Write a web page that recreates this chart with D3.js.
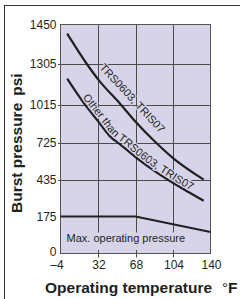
<!DOCTYPE html>
<html><head><meta charset="utf-8">
<script src="https://cdn.jsdelivr.net/npm/d3@7/dist/d3.min.js"></script>
<style>
html,body{margin:0;padding:0;background:#fff;}
svg{display:block;font-family:"Liberation Sans",Arial,Helvetica,sans-serif;}
</style></head><body>
<svg id="c" width="240" height="299"></svg>
<script>
// ---------- data ----------
const xTicks = [-4, 32, 68, 104, 140];
const xTickLabels = ["\u20134", "32", "68", "104", "140"];
const yTicks = [0, 175, 435, 725, 1015, 1305, 1450];
const yTickLabels = ["0", "175", "435", "725", "1015", "1305", "1450"];

// TRS0603, TRIS07
const tempA  = [2.4, 21.1, 32.9, 53.2, 68.3, 85.3, 104.6, 133.5];
const burstA = [1416, 1305, 1187, 1022, 882, 743, 600, 435];
// Other than TRS0603, TRIS07
const tempB  = [2.4, 16.5, 32.9, 43.5, 53.2, 68.3, 85.3, 104.6, 133.5];
const burstB = [1199, 1045, 880, 773, 712, 610, 508, 409, 286];
// Max. operating pressure
const tempMax  = [-4, 68, 140];
const pressMax = [175, 175, 102];

const labelA = "TRS0603, TRIS07";
const labelB = "Other than TRS0603, TRIS07";
const labelMax = "Max. operating pressure";
const xTitle = "Operating temperature";
const xUnit = "\u00B0F";
const yTitle = "Burst pressure";
const yUnit = "psi";

// ---------- layout ----------
const W = 240, H = 299;
const pLeft = 60.5, pRight = 210.5, pTop = 24.5, pBottom = 253.5;
const yStops = [0, 0.1614, 0.3227, 0.484, 0.65, 0.8286, 1];
const bg = "#d7d4ea", grid = "#4a4a4a", ink = "#231f20";

const svg = d3.select("#c");
const x = d3.scaleLinear().domain([xTicks[0], xTicks[xTicks.length-1]]).range([pLeft, pRight]);
const y = d3.scaleLinear().domain(yTicks).range(yStops.map(f => pBottom - f * (pBottom - pTop)));

// outer frame (left & top)
svg.append("line").attr("x1", 4.5).attr("x2", 4.5).attr("y1", 5).attr("y2", H).attr("stroke", "#333").attr("stroke-width", 1);
svg.append("line").attr("x1", 4).attr("x2", W).attr("y1", 5.5).attr("y2", 5.5).attr("stroke", "#333").attr("stroke-width", 1);

// plot background
svg.append("rect").attr("x", pLeft).attr("y", pTop).attr("width", pRight - pLeft).attr("height", pBottom - pTop).attr("fill", bg);

// gridlines
const g = svg.append("g").attr("stroke", grid).attr("stroke-width", 1);
g.selectAll(".vx").data(xTicks.slice(1, -1)).join("line")
  .attr("x1", d => Math.round(x(d)) + 0.5).attr("x2", d => Math.round(x(d)) + 0.5)
  .attr("y1", pTop).attr("y2", pBottom + 4);
g.selectAll(".hy").data(yTicks.slice(2, -1)).join("line")
  .attr("x1", pLeft - 2.5).attr("x2", pRight)
  .attr("y1", d => Math.round(y(d)) + 0.5).attr("y2", d => Math.round(y(d)) + 0.5);

// max label background + text
const maxBg = svg.append("rect").attr("fill", bg);
const maxText = svg.append("text").attr("x", pLeft + 6).attr("y", pBottom - 11.5)
  .attr("font-size", 11).attr("fill", ink).text(labelMax);
const bb = maxText.node().getBBox();
maxBg.attr("x", bb.x - 2).attr("y", bb.y + 0.5)
  .attr("width", bb.width + 4).attr("height", pBottom - 4 - bb.y);

// plot border
svg.append("rect").attr("x", pLeft).attr("y", pTop).attr("width", pRight - pLeft).attr("height", pBottom - pTop)
  .attr("fill", "none").attr("stroke", "#555").attr("stroke-width", 1);

// curves
const line = d3.line().x(d => x(d[0])).y(d => y(d[1])).curve(d3.curveMonotoneX);
const pA = svg.append("path").attr("d", line(tempA.map((t, i) => [t, burstA[i]])))
  .attr("fill", "none").attr("stroke", ink).attr("stroke-width", 2.2);
const pB = svg.append("path").attr("d", line(tempB.map((t, i) => [t, burstB[i]])))
  .attr("fill", "none").attr("stroke", ink).attr("stroke-width", 2.2);
svg.append("path").attr("d", d3.line().x(d => x(d[0])).y(d => y(d[1]))(tempMax.map((t, i) => [t, pressMax[i]])))
  .attr("fill", "none").attr("stroke", ink).attr("stroke-width", 2);

// offset path helper for label along curve
function offsetPts(node, d) {
  const L = node.getTotalLength(), pts = [];
  for (let s = 0; s <= L; s += 2) {
    const p = node.getPointAtLength(s);
    const q = node.getPointAtLength(Math.min(L, s + 1.5));
    const r = node.getPointAtLength(Math.max(0, s - 1.5));
    let tx = q.x - r.x, ty = q.y - r.y; const n = Math.hypot(tx, ty) || 1; tx /= n; ty /= n;
    pts.push([p.x + ty * d, p.y - tx * d]);
  }
  return pts;
}
function startAt(pts, xs) {
  let len = 0;
  for (let i = 1; i < pts.length; i++) {
    if (pts[i][0] >= xs) return len;
    len += Math.hypot(pts[i][0] - pts[i-1][0], pts[i][1] - pts[i-1][1]);
  }
  return len;
}
const defs = svg.append("defs");

// label A (straight, rotated)
svg.append("text")
  .attr("transform", `translate(${x(33)},${y(1275)}) rotate(47)`)
  .attr("font-size", 11).attr("fill", ink)
  .attr("stroke", bg).attr("stroke-width", 2.5).attr("paint-order", "stroke")
  .text(labelA);

// label B along offset of curve B
const ptsB = offsetPts(pB.node(), 2.5);
defs.append("path").attr("id", "pathB").attr("d", d3.line()(ptsB));
svg.append("text").attr("font-size", 11).attr("fill", ink)
  .attr("stroke", bg).attr("stroke-width", 2.5).attr("paint-order", "stroke")
  .append("textPath").attr("href", "#pathB").attr("startOffset", startAt(ptsB, 83))
  .text(labelB);

// y tick labels
svg.selectAll(".yl").data(yTicks).join("text")
  .attr("x", 56.5).attr("y", d => y(d)).attr("dy", (d, i) => i === 0 ? "0.2em" : "0.35em")
  .attr("text-anchor", "end").attr("font-size", 12).attr("fill", ink)
  .text((d, i) => yTickLabels[i]);

// x tick labels
svg.selectAll(".xl").data(xTicks).join("text")
  .attr("x", d => x(d) + 1).attr("y", 268.5)
  .attr("dx", (d, i) => i === 0 ? -4.5 : 0)
  .attr("text-anchor", "middle").attr("font-size", 12).attr("fill", ink)
  .text((d, i) => xTickLabels[i]);

// axis titles
const xt = svg.append("text").attr("x", 45).attr("y", 293)
  .attr("font-size", 15.5).attr("font-weight", "bold").attr("fill", ink);
xt.append("tspan").text(xTitle);
xt.append("tspan").attr("x", 222).attr("font-weight", "normal").attr("font-size", 15).text(xUnit.charAt(0));
xt.append("tspan").attr("font-weight", "bold").text(xUnit.slice(1));

const yt = svg.append("text").attr("transform", "translate(21.5,213) rotate(-90)")
  .attr("font-size", 15.5).attr("font-weight", "bold").attr("fill", ink);
yt.append("tspan").text(yTitle);
yt.append("tspan").attr("dx", 7).text(yUnit);
</script>
</body></html>
